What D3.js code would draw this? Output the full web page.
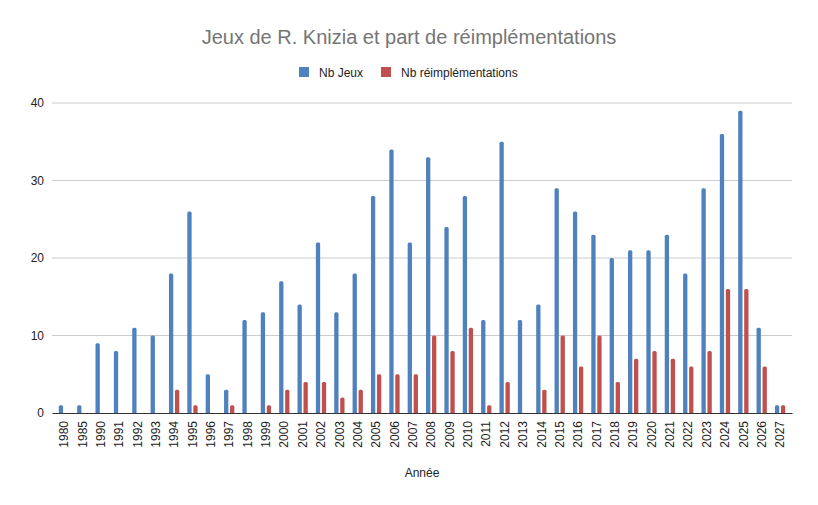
<!DOCTYPE html>
<html>
<head>
<meta charset="utf-8">
<script src="https://cdn.jsdelivr.net/npm/d3@7"></script>
<style>
  body { margin: 0; background: #fff; }
  text { font-family: Arial, "Liberation Sans", sans-serif; }
</style>
</head>
<body>
<div class="canvas"></div>
<script>
const years = ['1980', '1985', '1990', '1991', '1992', '1993', '1994', '1995', '1996', '1997', '1998', '1999',
    '2000', '2001', '2002', '2003', '2004', '2005', '2006', '2007', '2008', '2009', '2010', '2011', '2012', '2013',
    '2014', '2015', '2016', '2017', '2018', '2019', '2020', '2021', '2022', '2023', '2024', '2025', '2026', '2027'];
const nbJeux = [1, 1, 9, 8, 11, 10, 18, 26, 5, 3, 12, 13,
    17, 14, 22, 13, 18, 28, 34, 22, 33, 24, 28, 12, 35, 12,
    14, 29, 26, 23, 20, 21, 21, 23, 18, 29, 36, 39, 11, 1];
const nbReimpl = [0, 0, 0, 0, 0, 0, 3, 1, 0, 1, 0, 1,
    3, 4, 4, 2, 3, 5, 5, 5, 10, 8, 11, 1, 4, 0,
    3, 10, 6, 10, 4, 7, 8, 7, 6, 8, 16, 16, 6, 1];
const seriesNames = ['Nb Jeux', 'Nb réimplémentations'];
const yTicks = [0, 10, 20, 30, 40];

const colors = ['#4f81bd', '#c0504d'];
const W = 818, H = 505;
const margin = { top: 103, right: 26, bottom: 92, left: 52 };
const graphWidth = W - margin.left - margin.right;
const graphHeight = H - margin.top - margin.bottom;

const svg = d3.select('.canvas')
    .append('svg')
    .attr('width', W)
    .attr('height', H)
;

// title
svg.append('text')
    .attr('x', W / 2)
    .attr('y', 44)
    .attr('text-anchor', 'middle')
    .attr('font-size', 20)
    .attr('fill', '#757575')
    .text('Jeux de R. Knizia et part de réimplémentations');

// legend
const legendX = [299, 381];
seriesNames.forEach((name, i) => {
    const g = svg.append('g').attr('transform', `translate(${legendX[i]}, 67)`);
    g.append('rect').attr('width', 10).attr('height', 10).attr('fill', colors[i]);
    g.append('text').attr('x', 20).attr('y', 9.5)
        .attr('font-size', 12).attr('fill', '#222').text(name);
});

const graph = svg.append('g')
    .attr('transform', `translate(${margin.left}, ${margin.top})`)
;

// scales
const x = d3.scaleBand().domain(years).range([ 0, graphWidth ]).paddingOuter(0.15);
const y = d3.scaleLinear().domain([ 0, 40 ]).range([ graphHeight, 0 ]);

// gridlines
graph.selectAll('line.grid')
    .data(yTicks.filter(t => t > 0))
    .enter().append('line')
        .attr('class', 'grid')
        .attr('x1', 0).attr('x2', graphWidth)
        .attr('y1', d => y(d)).attr('y2', d => y(d))
        .attr('stroke', '#cccccc')
        .attr('stroke-width', 1)
;

// y axis labels
const yAxis = d3.axisLeft(y).tickValues(yTicks).tickSize(0).tickPadding(8);
graph.append('g').call(yAxis)
    .call(g => g.select('.domain').remove())
    .selectAll('text')
        .attr('font-size', 12)
        .attr('fill', '#222')
;

// bars
const barW = 4.3, gap = 1.7;
const series = [nbJeux, nbReimpl];
series.forEach((vals, s) => {
    const offset = x.bandwidth() / 2 + (s === 0 ? -(barW + gap / 2) : gap / 2);
    graph.append('g').selectAll('path')
        .data(vals.map((v, i) => ({ year: years[i], value: v })).filter(d => d.value > 0))
        .enter().append('path')
            .attr('fill', colors[s])
            .attr('d', d => {
                const x0 = x(d.year) + offset;
                const y0 = y(d.value);
                const r = 1.5;
                return `M${x0},${graphHeight} V${y0 + r} Q${x0},${y0} ${x0 + r},${y0} H${x0 + barW - r} Q${x0 + barW},${y0} ${x0 + barW},${y0 + r} V${graphHeight} Z`;
            })
    ;
});

// x axis
const xAxis = d3.axisBottom(x).tickSize(0);
const xAxisGroup = graph.append('g')
    .attr('transform', `translate(0, ${graphHeight})`)
    .call(xAxis)
;
xAxisGroup.select('.domain').attr('stroke', '#333').attr('stroke-width', 1.2);
xAxisGroup.selectAll('text')
    .attr('font-size', 12)
    .attr('fill', '#222')
    .attr('transform', 'rotate(-90)')
    .attr('text-anchor', 'end')
    .attr('x', -8)
    .attr('y', 0)
    .attr('dx', 0)
    .attr('dy', '0.35em')
;

svg.append('text')
    .attr('x', margin.left + graphWidth / 2)
    .attr('y', 477)
    .attr('text-anchor', 'middle')
    .attr('font-size', 12)
    .attr('fill', '#222')
    .text('Année');
</script>
</body>
</html>
